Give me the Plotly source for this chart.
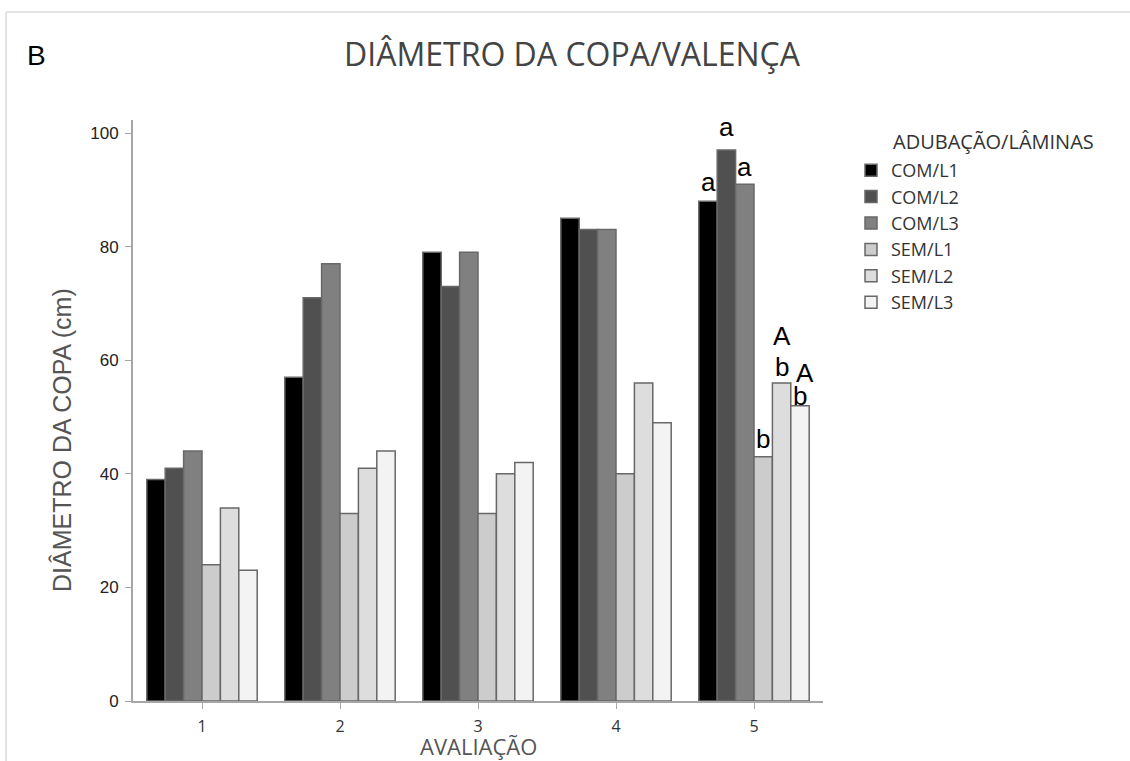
import plotly.graph_objects as go

avaliacao = [1, 2, 3, 4, 5]
series_names = ["COM/L1", "COM/L2", "COM/L3", "SEM/L1", "SEM/L2", "SEM/L3"]
com_l1 = [39, 57, 79, 85, 88]
com_l2 = [41, 71, 73, 83, 97]
com_l3 = [44, 77, 79, 83, 91]
sem_l1 = [24, 33, 33, 40, 43]
sem_l2 = [34, 41, 40, 56, 56]
sem_l3 = [23, 44, 42, 49, 52]
series_values = [com_l1, com_l2, com_l3, sem_l1, sem_l2, sem_l3]
colors = ["#000000", "#505050", "#808080", "#cccccc", "#dddddd", "#f3f3f3"]

# significance letters for the 5th evaluation
lower_letters = ["a", "a", "a", "b", "b", "b"]
upper_letters = ["", "", "", "", "A", "A"]
lower_shift = [19, 23, 17, 18, 16, 10]
upper_shift = [0, 0, 0, 0, 47, 33]
upper_xshift = [0, 0, 0, 0, 0, 5]

L, R, T, B = 133, 307, 120, 60
W, H = 1130, 761
pw, ph = W - L - R, H - T - B


def px_to_paper_x(px):
    return (px - L) / pw


def px_to_paper_y(py):
    return (H - B - py) / ph


fig = go.Figure()
for i, (name, vals) in enumerate(zip(series_names, series_values)):
    fig.add_trace(go.Bar(
        x=avaliacao, y=vals, name=name,
        marker=dict(color=colors[i], line=dict(color="#686868", width=1.5)),
    ))

bargap = 0.2
nser = len(series_names)
bw = (1 - bargap) / nser
letter_font = dict(family="Liberation Sans, Arial", size=26, color="#000")
annotations = []
last = avaliacao[-1]
for i in range(nser):
    xc = last + (i - (nser - 1) / 2) * bw
    v = series_values[i][-1]
    annotations.append(dict(x=xc, y=v, xref="x", yref="y", text=lower_letters[i],
                            showarrow=False, yanchor="middle", yshift=lower_shift[i],
                            font=letter_font))
    if upper_letters[i]:
        annotations.append(dict(x=xc, y=v, xref="x", yref="y", text=upper_letters[i],
                                showarrow=False, yanchor="middle", yshift=upper_shift[i],
                                xshift=upper_xshift[i], font=letter_font))

# panel label
annotations.append(dict(x=px_to_paper_x(36), y=px_to_paper_y(55), xref="paper", yref="paper",
                        text="B", showarrow=False, xanchor="center", yanchor="middle",
                        font=dict(family="Liberation Sans, Arial", size=28, color="#000")))
# y-axis title (placed as in the original, slightly below the axis centre)
annotations.append(dict(x=px_to_paper_x(62), y=px_to_paper_y(440), xref="paper", yref="paper",
                        text="DIÂMETRO DA COPA (cm)", textangle=-90,
                        showarrow=False, xanchor="center", yanchor="middle",
                        font=dict(family="Liberation Sans, Arial", size=25, color="#555")))
# x-axis title
annotations.append(dict(x=px_to_paper_x(478), y=px_to_paper_y(746), xref="paper", yref="paper",
                        text="AVALIAÇÃO", showarrow=False, xanchor="center", yanchor="middle",
                        font=dict(family="Open Sans", size=22, color="#555")))
# legend title (aligned with the entry labels)
annotations.append(dict(x=px_to_paper_x(891), y=px_to_paper_y(141), xref="paper", yref="paper",
                        text="ADUBAÇÃO/LÂMINAS", showarrow=False, xanchor="left", yanchor="middle",
                        font=dict(family="Open Sans", size=20, color="#333")))

bx, by = px_to_paper_x(6), px_to_paper_y(12)
shapes = [
    dict(type="line", xref="paper", yref="paper", x0=bx, x1=bx, y0=px_to_paper_y(761), y1=by,
         line=dict(color="#e3e3e3", width=2)),
    dict(type="line", xref="paper", yref="paper", x0=bx, x1=px_to_paper_x(1130), y0=by, y1=by,
         line=dict(color="#e3e3e3", width=2)),
]

fig.update_layout(
    width=W, height=H,
    margin=dict(l=L, r=R, t=T, b=B, autoexpand=False),
    paper_bgcolor="white", plot_bgcolor="white",
    barmode="group", bargap=bargap, bargroupgap=0,
    title=dict(text="DIÂMETRO DA COPA/VALENÇA", x=572 / W, xanchor="center",
               y=1 - 55 / H, yanchor="middle", yref="container",
               font=dict(family="Open Sans", size=32, color="#444")),
    xaxis=dict(range=[0.5, 5.5], tickvals=avaliacao, ticktext=[str(a) for a in avaliacao],
               showline=True, linecolor="#a6a6a6", linewidth=2, ticks="outside",
               ticklen=6, tickcolor="#a6a6a6", tickwidth=1, showgrid=False, zeroline=False,
               ticklabelstandoff=4, automargin=False,
               tickfont=dict(family="Open Sans", size=16, color="#333")),
    yaxis=dict(range=[0, 102.3], tickvals=[0, 20, 40, 60, 80, 100],
               showline=True, linecolor="#a6a6a6", linewidth=2, ticks="outside",
               ticklen=6, tickcolor="#a6a6a6", tickwidth=1, showgrid=False, zeroline=False,
               ticklabelstandoff=3, automargin=False,
               tickfont=dict(family="Liberation Sans, Arial", size=17, color="#222")),
    legend=dict(x=px_to_paper_x(851), y=px_to_paper_y(152), xanchor="left", yanchor="top",
                font=dict(family="Open Sans", size=18, color="#333"),
                tracegroupgap=0, bgcolor="rgba(0,0,0,0)"),
    annotations=annotations,
    shapes=shapes,
)

fig.write_html("out.html", config={"displayModeBar": False},
               post_script="document.body.style.margin='0';")
